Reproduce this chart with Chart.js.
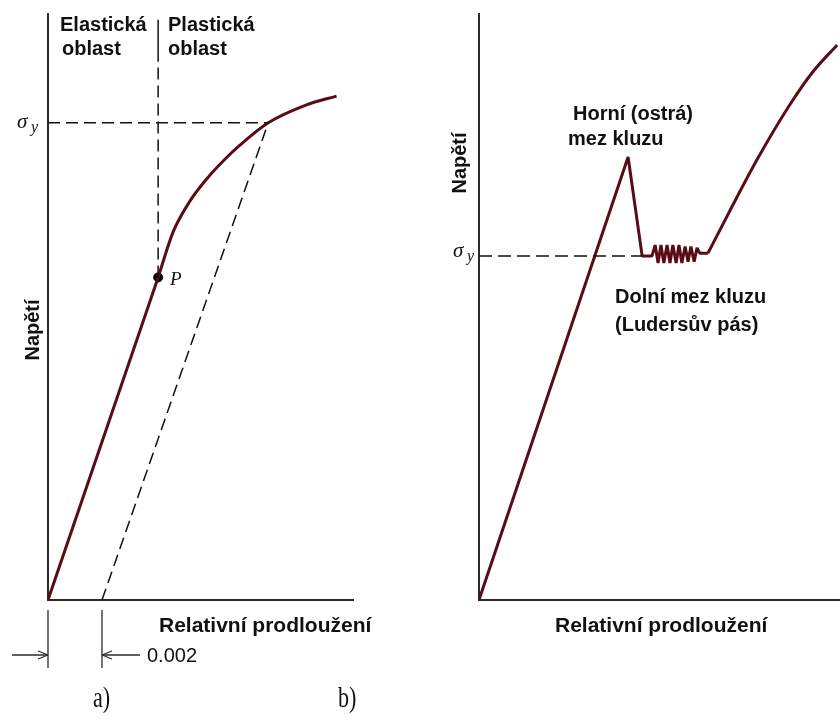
<!DOCTYPE html>
<html>
<head>
<meta charset="utf-8">
<script src="https://cdn.jsdelivr.net/npm/chart.js@4.4.1/dist/chart.umd.min.js"></script>
<style>
  body { margin: 0; background: #fff; }
  #wrap { position: relative; width: 840px; height: 727px; }
  canvas { position: absolute; left: 0; top: 0; }
</style>
</head>
<body>
<div id="wrap">
  <canvas id="chartA" width="840" height="727"></canvas>
  <canvas id="chartB" width="840" height="727"></canvas>
</div>
<script>
// a) elastic / plastic curve (strain, stress in MPa-like units, sigma_y = 250)
const elasticStrain = [0, 0.00408];
const elasticStress = [0, 169];
const plasticStrain = [0.00408, 0.00464, 0.00526, 0.00588, 0.00649, 0.00711, 0.00816, 0.00958, 0.01069];
const plasticStress = [169, 193, 209, 220.6, 230, 238.3, 250, 259.4, 264];
const offsetStrain = [0.002, 0.00816];
const offsetStress = [0, 250];
const yieldStrainA = [0, 0.00816];
const yieldStressA = [250, 250];
const limitStrain = [0.00408, 0.00408];
const limitStress = [169, 282];
const limitTopStress = [282, 304];
const pointP = [0.00408, 169];

// b) upper / lower yield point (strain in arbitrary units)
const yieldStrainB = [0, 4.13, 4.52, 4.79, 4.88, 4.96, 5.04, 5.12, 5.21, 5.29, 5.37, 5.46,
  5.54, 5.62, 5.71, 5.79, 5.87, 5.96, 6.04, 6.12, 6.34];
const yieldStressB = [0, 322, 250, 250, 258, 245, 258, 245, 258, 245, 258, 245,
  258, 245, 257, 246, 257, 246, 256, 252, 252];
const hardenStrain = [6.34, 6.95, 7.70, 8.61, 9.25, 9.92];
const hardenStress = [252, 283, 320, 360, 384, 403.5];
const sigmaStrainB = [0, 4.52];
const sigmaStressB = [250, 250];

const curveColor = "#5a0c15";
const axisColor = "#2a2a2a";
const boldFont = 'bold 20px "Liberation Sans", Arial, sans-serif';
const bigBold = 'bold 21px "Liberation Sans", Arial, sans-serif';

function pts(xs, ys) {
  return xs.map((x, i) => ({ x: x, y: ys[i] }));
}

function line(xs, ys, opts) {
  return Object.assign({
    data: pts(xs, ys),
    showLine: true,
    pointRadius: 0,
    borderColor: "#111",
    borderWidth: 1.5,
    borderJoinStyle: "round",
    tension: 0,
    fill: false,
  }, opts);
}

function axes(xMax, yMax) {
  const common = {
    type: "linear",
    grid: { display: false, drawTicks: false },
    ticks: { display: false },
    border: { display: true, color: axisColor, width: 2 },
  };
  return {
    x: Object.assign({}, common, { min: 0, max: xMax }),
    y: Object.assign({}, common, { min: 0, max: yMax }),
  };
}

function drawText(ctx, text, x, y, font, rotate) {
  ctx.save();
  ctx.font = font;
  ctx.fillStyle = "#111";
  if (rotate) {
    ctx.translate(x, y);
    ctx.rotate(-Math.PI / 2);
    ctx.textAlign = "center";
    ctx.textBaseline = "middle";
    ctx.fillText(text, 0, 0);
  } else {
    ctx.textAlign = "left";
    ctx.textBaseline = "alphabetic";
    ctx.fillText(text, x, y);
  }
  ctx.restore();
}

function drawSigma(ctx, x, y) {
  drawText(ctx, "σ", x, y, 'italic 21px "Liberation Serif", serif');
  drawText(ctx, "y", x + 14, y + 4, 'italic 16px "Liberation Serif", serif');
}

function drawCaption(ctx, text, x, y) {
  // tall, narrow serif like the scanned figure captions
  ctx.save();
  ctx.translate(x, y);
  ctx.scale(0.85, 1.1);
  drawText(ctx, text, 0, 0, '26px "Liberation Serif", serif');
  ctx.restore();
}

function segment(ctx, x1, y1, x2, y2) {
  ctx.beginPath();
  ctx.moveTo(x1, y1);
  ctx.lineTo(x2, y2);
  ctx.stroke();
}

const labelsA = {
  id: "labelsA",
  afterDraw(chart) {
    const ctx = chart.ctx;
    drawText(ctx, "Elastická", 60, 31, boldFont);
    drawText(ctx, "oblast", 62, 55, boldFont);
    drawText(ctx, "Plastická", 168, 31, boldFont);
    drawText(ctx, "oblast", 168, 55, boldFont);
    drawText(ctx, "Napětí", 33, 330, boldFont, true);
    drawText(ctx, "Relativní prodloužení", 159, 632, bigBold);
    drawText(ctx, "0.002", 147, 662, '20px "Liberation Sans", Arial, sans-serif');
    drawCaption(ctx, "a)", 93, 707);
    drawText(ctx, "P", 170, 285, 'italic 19px "Liberation Serif", serif');
    drawSigma(ctx, 17, 128);

    // 0.002 offset marker
    ctx.save();
    ctx.strokeStyle = axisColor;
    ctx.lineWidth = 1.3;
    const x0 = chart.scales.x.getPixelForValue(0);
    const x1 = chart.scales.x.getPixelForValue(offsetStrain[0]);
    segment(ctx, x0, 610, x0, 668);
    segment(ctx, x1, 610, x1, 668);
    segment(ctx, 12, 655, x0, 655);
    segment(ctx, x0 - 10, 651, x0, 655);
    segment(ctx, x0 - 10, 659, x0, 655);
    segment(ctx, x1 + 38, 655, x1, 655);
    segment(ctx, x1 + 10, 651, x1, 655);
    segment(ctx, x1 + 10, 659, x1, 655);
    ctx.restore();
  },
};

const labelsB = {
  id: "labelsB",
  afterDraw(chart) {
    const ctx = chart.ctx;
    drawText(ctx, "Horní (ostrá)", 573, 120, boldFont);
    drawText(ctx, "mez kluzu", 568, 145, boldFont);
    drawText(ctx, "Dolní mez kluzu", 615, 303, boldFont);
    drawText(ctx, "(Ludersův pás)", 615, 331, boldFont);
    drawText(ctx, "Napětí", 460, 163, boldFont, true);
    drawText(ctx, "Relativní prodloužení", 555, 632, bigBold);
    drawCaption(ctx, "b)", 338, 707);
    drawSigma(ctx, 453, 257);
  },
};

const dash = [12, 6];

new Chart(document.getElementById("chartA"), {
  type: "scatter",
  data: {
    datasets: [
      line(yieldStrainA, yieldStressA, { borderDash: dash }),
      line(limitStrain, limitStress, { borderDash: dash }),
      line(limitStrain, limitTopStress, {}),
      line(offsetStrain, offsetStress, { borderDash: dash }),
      line(elasticStrain, elasticStress, { borderColor: curveColor, borderWidth: 3 }),
      line(plasticStrain, plasticStress, {
        borderColor: curveColor, borderWidth: 3, cubicInterpolationMode: "monotone",
      }),
      {
        data: [{ x: pointP[0], y: pointP[1] }],
        pointRadius: 4.5,
        pointBackgroundColor: "#000",
        pointBorderColor: "#000",
      },
    ],
  },
  options: {
    responsive: false,
    animation: false,
    layout: { padding: { left: 48, right: 487, top: 14, bottom: 127 } },
    scales: axes(0.0113, 307),
    plugins: { legend: { display: false }, tooltip: { enabled: false } },
  },
  plugins: [labelsA],
});

new Chart(document.getElementById("chartB"), {
  type: "scatter",
  data: {
    datasets: [
      line(sigmaStrainB, sigmaStressB, { borderDash: [13, 6] }),
      line(yieldStrainB, yieldStressB, {
        borderColor: curveColor, borderWidth: 3, borderJoinStyle: "bevel",
      }),
      line(hardenStrain, hardenStress, {
        borderColor: curveColor, borderWidth: 3, cubicInterpolationMode: "monotone",
      }),
    ],
  },
  options: {
    responsive: false,
    animation: false,
    layout: { padding: { left: 479, right: 0, top: 14, bottom: 127 } },
    scales: axes(10, 426),
    plugins: { legend: { display: false }, tooltip: { enabled: false } },
  },
  plugins: [labelsB],
});
</script>
</body>
</html>
